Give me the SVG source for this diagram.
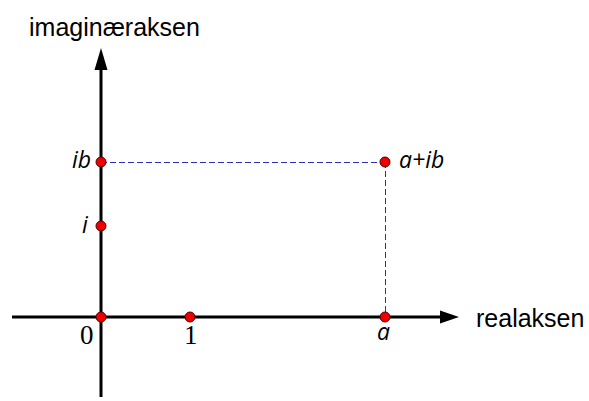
<svg xmlns="http://www.w3.org/2000/svg" width="589" height="401" viewBox="0 0 589 401">
<style>
.axis{stroke:#000;stroke-width:3;fill:none}
.dash{stroke:#2f2fb5;stroke-width:1;stroke-dasharray:6,3;fill:none}
.pt{fill:#ee0000;stroke:#550000;stroke-width:1}
.lbl{font-family:"Liberation Sans",Arial,sans-serif;font-size:25px;fill:#000}
.it{font-family:"Open Sans","DejaVu Sans",sans-serif;font-style:italic;font-size:23px;fill:#000}
.num{font-family:"Liberation Serif","Times New Roman",serif;font-size:27px;fill:#000}
</style>
<g id="connectors">
<line class="dash" x1="101" y1="162.5" x2="385" y2="162.5"/>
<line class="dash" x1="385.5" y1="162" x2="385.5" y2="317"/>
<line class="axis" x1="12" y1="317" x2="442" y2="317"/>
<polygon points="440,310.5 459,317 440,323.5" fill="#000"/>
<line class="axis" x1="101" y1="397" x2="101" y2="68"/>
<polygon points="94.5,70 101,48 107.5,70" fill="#000"/>
</g>
<g id="axis-labels">
<text class="lbl" x="29" y="36">imaginæraksen</text>
<text class="lbl" x="476" y="327">realaksen</text>
</g>
<g id="origin"><circle class="pt" cx="101" cy="317" r="5"/><text class="num" x="80" y="344">0</text></g>
<g id="one"><circle class="pt" cx="190" cy="317" r="5"/><text class="num" x="184" y="344">1</text></g>
<g id="a"><circle class="pt" cx="385" cy="317" r="5"/><text class="it" x="377" y="340">a</text></g>
<g id="i"><circle class="pt" cx="101" cy="226" r="5"/><text class="it" x="82" y="233">i</text></g>
<g id="ib"><circle class="pt" cx="101" cy="162" r="5"/><text class="it" x="72" y="168">ib</text></g>
<g id="aib"><circle class="pt" cx="385" cy="162" r="5"/><text class="it" x="399" y="168">a+ib</text></g>
</svg>
